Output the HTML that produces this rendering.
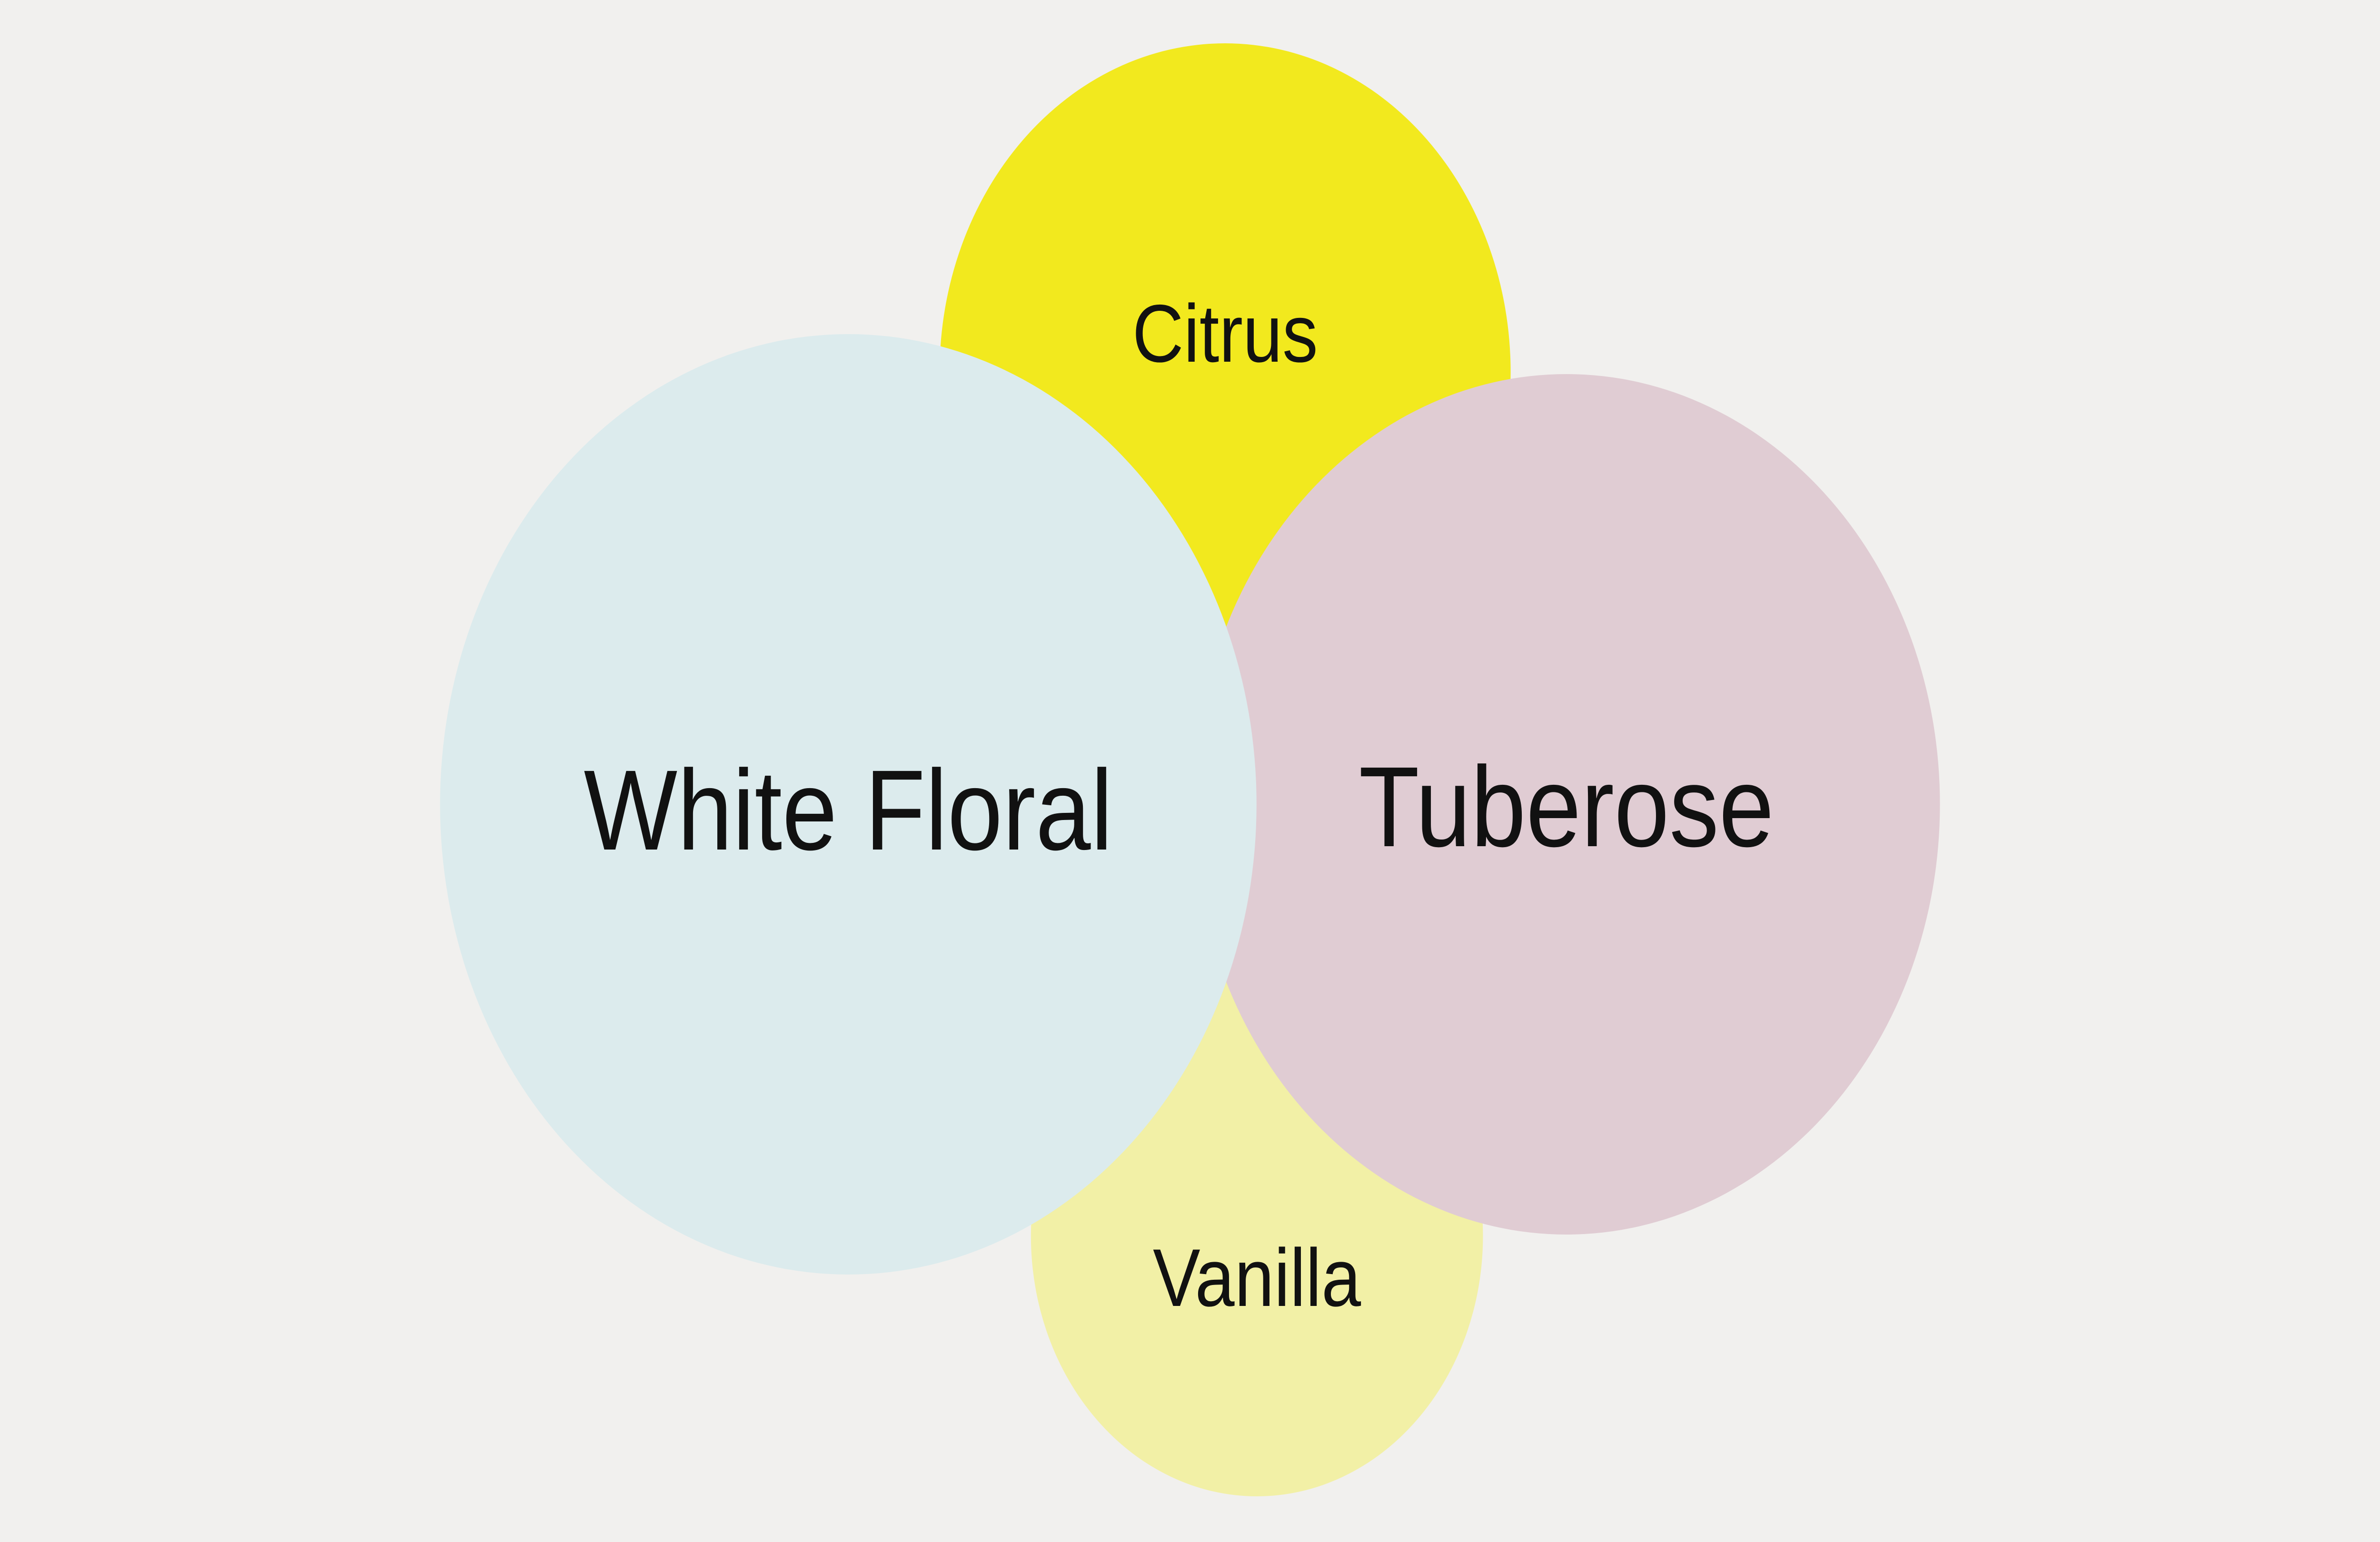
<!DOCTYPE html>
<html>
<head>
<meta charset="utf-8">
<style>
html,body{margin:0;padding:0;background:#f1f0ee;width:100%;height:100%;overflow:hidden;}
svg{display:block;position:fixed;left:0;top:0;width:100vw;height:100vh;}
text{font-family:"Liberation Sans",sans-serif;fill:#111;text-anchor:middle;}
</style>
</head>
<body>
<svg viewBox="0 0 5760 3240" preserveAspectRatio="none" xmlns="http://www.w3.org/2000/svg">
<rect width="5760" height="3240" fill="#f1f0ee"/>
<circle cx="2965" cy="782" r="691" fill="#f2e91e"/>
<circle cx="3042" cy="2597" r="547" fill="#f2f0a6"/>
<circle cx="3791" cy="1690" r="904" fill="#e0ccd3"/>
<circle cx="2053" cy="1690" r="988" fill="#dcebed"/>
<text x="2965" y="760" font-size="172">Citrus</text>
<text x="3042" y="2744" font-size="172">Vanilla</text>
<text x="2053" y="1785" font-size="240">White Floral</text>
<text x="3791" y="1778" font-size="240">Tuberose</text>
</svg>
</body>
</html>
